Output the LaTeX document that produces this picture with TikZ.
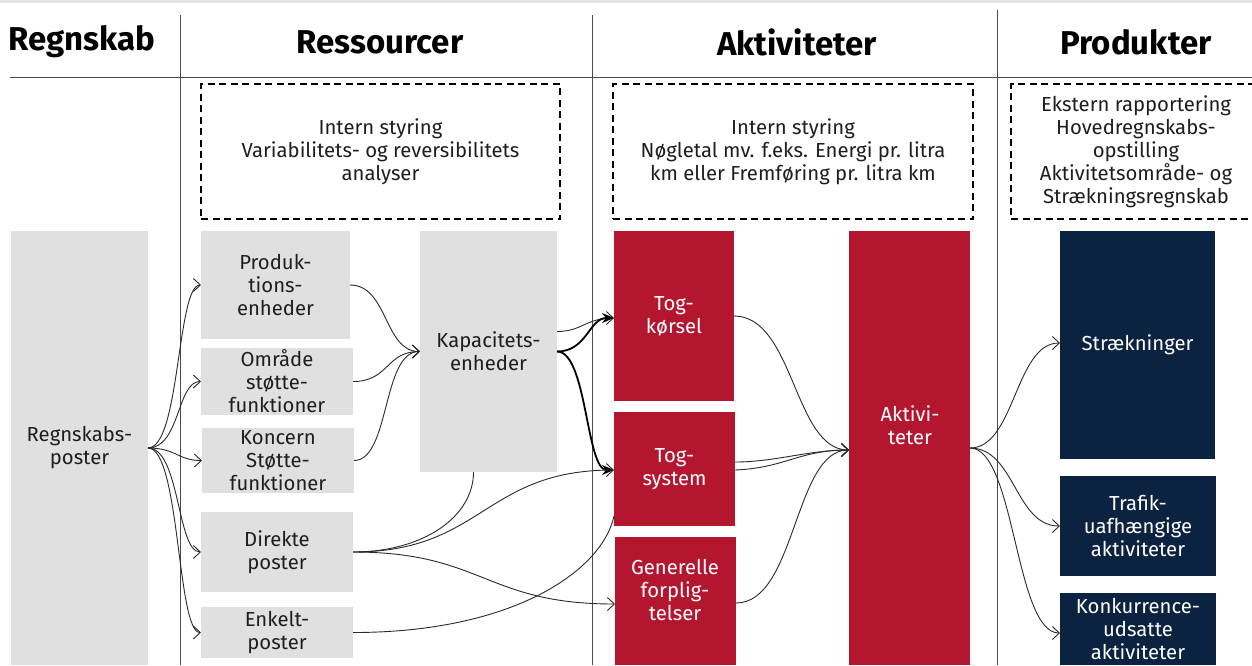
\documentclass[tikz,border=0pt]{standalone}
\usepackage{fontspec}
\setmainfont{Fira Sans}
\usetikzlibrary{arrows.meta,calc}
\definecolor{boxgray}{HTML}{E0E0E0}
\definecolor{topgray}{HTML}{E4E4E4}
\definecolor{dsbred}{HTML}{B41630}
\definecolor{dsbnavy}{HTML}{0B2340}
\definecolor{rulecol}{HTML}{4A4A4A}
\definecolor{arrowcol}{HTML}{2A2A2A}
\definecolor{txtcol}{HTML}{1E1E1E}
\begin{document}
\begin{tikzpicture}[x=1pt,y=-1pt,
  head/.style={font=\bfseries\fontsize{33}{37}\selectfont, text=black, inner sep=0},
  body/.style={font=\fontsize{20.3}{23}\selectfont, align=center},
  basebox/.style={body, anchor=north west, inner sep=0, outer sep=0},
  gbox/.style={basebox, fill=boxgray, text=txtcol},
  rbox/.style={basebox, fill=dsbred, text=white},
  nbox/.style={basebox, fill=dsbnavy, text=white},
  dbox/.style={basebox, draw=black, line width=1.5pt, dash pattern=on 7pt off 4.5pt, text=txtcol},
  lbl/.style={body, inner sep=0},
  rulel/.style={draw=rulecol, line width=1pt},
  ln/.style={draw=arrowcol, line width=0.9pt},
  arr/.style={ln, -{Straight Barb[length=7pt,width=13pt,line width=0.9pt]}},
  tarr/.style={draw=black, line width=1.8pt, -{Stealth[length=12pt,width=10pt]}}
]
\useasboundingbox (0,0) rectangle (1252,665);
\clip (0,0) rectangle (1252,665);
\fill[white] (0,0) rectangle (1252,665);
\fill[topgray] (0,0) rectangle (1252,3);

% headers
\node[head] (hreg) at (82,42) {Regnskab};
\node[head] (hres) at (380,42) {Ressourcer};
\node[head] (hakt) at (797,42) {Aktiviteter};
\node[head] (hpro) at (1136,42) {Produkter};

% rules
\draw[rulel] (10,77) -- (1252,77);
\draw[rulel] (180,15) -- (180,665);
\draw[rulel] (592,15) -- (592,665);
\draw[rulel] (997,10) -- (997,665);

% dashed boxes
\node[dbox, minimum width=359pt, minimum height=135pt] (dres) at (201,84)
  {Intern styring\\Variabilitets- og reversibilitets\\analyser};
\node[dbox, minimum width=360pt, minimum height=135pt] (dakt) at (613,84)
  {Intern styring\\Nøgletal mv. f.eks. Energi pr. litra\\km eller Fremføring pr. litra km};
\node[dbox, minimum width=250pt, minimum height=135pt] (dpro) at (1011,84)
  {Ekstern rapportering\\Hovedregnskabs-\\opstilling\\Aktivitetsområde- og\\Strækningsregnskab};

% gray boxes
\node[gbox, minimum width=137pt, minimum height=434pt] (reg) at (11,231) {Regnskabs-\\poster};
\node[gbox, minimum width=149pt, minimum height=108pt] (prod) at (201,231) {Produk-\\tions-\\enheder};
\node[gbox, minimum width=152pt, minimum height=67pt] (omr) at (201,348) {Område\\støtte-\\funktioner};
\node[gbox, minimum width=152pt, minimum height=65pt] (konc) at (202,428) {Koncern\\Støtte-\\funktioner};
\node[gbox, minimum width=152pt, minimum height=80pt] (dir) at (201,512) {Direkte\\poster};
\node[gbox, minimum width=152pt, minimum height=51pt] (enk) at (201,607) {Enkelt-\\poster};
\node[gbox, minimum width=137pt, minimum height=241pt] (kap) at (420,231) {Kapacitets-\\enheder};

% red boxes
\node[rbox, minimum width=120pt, minimum height=170pt] (togk) at (614,231) {Tog-\\kørsel};
\node[rbox, minimum width=121pt, minimum height=114pt] (togs) at (614,412) {Tog-\\system};
\node[rbox, minimum width=121pt, minimum height=128pt] (gen) at (615,537) {};
\node[lbl, text=white] (genlbl) at (675,590) {Generelle\\forplig-\\telser};
\node[rbox, minimum width=121pt, minimum height=434pt] (aktbox) at (849,231) {};
\node[lbl, text=white] (aktlbl) at (910,425) {Aktivi-\\teter};

% navy boxes
\node[nbox, minimum width=155pt, minimum height=228pt] (str) at (1060,231) {Strækninger};
\node[nbox, minimum width=156pt, minimum height=100pt] (traf) at (1060,476) {Trafik-\\uafhængige\\aktiviteter};
\node[nbox, minimum width=156pt, minimum height=72pt] (konk) at (1060,593) {Konkurrence-\\udsatte\\aktiviteter};

% Regnskab -> ressourcer
\draw[arr] (reg.east) .. controls +(32,0) and +(-24,0) .. (prod.west);
\draw[arr] (reg.east) .. controls +(32,0) and +(-24,0) .. (omr.west);
\draw[arr] (reg.east) .. controls +(28,0) and +(-24,0) .. (konc.west);
\draw[arr] (reg.east) .. controls +(32,0) and +(-24,0) .. (dir.west);
\draw[arr] (reg.east) .. controls +(32,0) and +(-24,0) .. (enk.west);

% ressourcer -> kapacitet
\draw[arr] (prod.east) .. controls +(38,0) and +(-36,0) .. (kap.west);
\draw[arr] (omr.east) .. controls +(36,0) and +(-34,0) .. (kap.west);
\draw[arr] (konc.east) .. controls +(36,0) and +(-38,0) .. (kap.west);

% kapacitet -> aktiviteter
\draw[arr] ($(kap.east)+(0,-20)$) .. controls +(25,0) and +(-28,0) .. ($(togk.west)+(0,2)$);
\draw[tarr] (kap.east) .. controls +(30,0) and +(-25,0) .. ($(togk.west)+(0,2)$);
\draw[tarr] (kap.east) .. controls +(30,0) and +(-28,0) .. ($(togs.west)+(0,1)$);

% direkte / enkelt
\draw[ln] (dir.east) .. controls +(70,0) and +(0,45) .. ($(kap.south)+(-15,0)$);
\draw[arr] (dir.east) .. controls +(130,0) and +(-130,0) .. ($(togs.west)+(0,1)$);
\draw[arr] (dir.east) .. controls +(130,0) and +(-130,0) .. ($(gen.west)+(0,3)$);
\draw[ln] (enk.east) .. controls +(160,0) and +(-12,55) .. ($(togs.south west)+(0,-10)$);

% aktiviteter -> Aktiviteter
\draw[arr] (togk.east) .. controls +(60,0) and +(-55,0) .. ($(aktbox.west)+(0,2)$);
\draw[arr] ($(togs.east)+(0,-7)$) .. controls +(40,0) and +(-40,0) .. ($(aktbox.west)+(0,2)$);
\draw[arr] ($(togs.east)+(0,1)$) .. controls +(50,-2) and +(-50,0) .. ($(aktbox.west)+(0,2)$);
\draw[arr] ($(gen.east)+(0,2)$) .. controls +(60,0) and +(-55,0) .. ($(aktbox.west)+(0,2)$);

% Aktiviteter -> produkter
\draw[arr] (aktbox.east) .. controls +(45,0) and +(-45,0) .. ($(str.west)+(0,-2)$);
\draw[arr] (aktbox.east) .. controls +(45,0) and +(-45,0) .. (traf.west);
\draw[arr] (aktbox.east) .. controls +(45,0) and +(-45,0) .. ($(konk.west)+(0,4)$);
\end{tikzpicture}
\end{document}
